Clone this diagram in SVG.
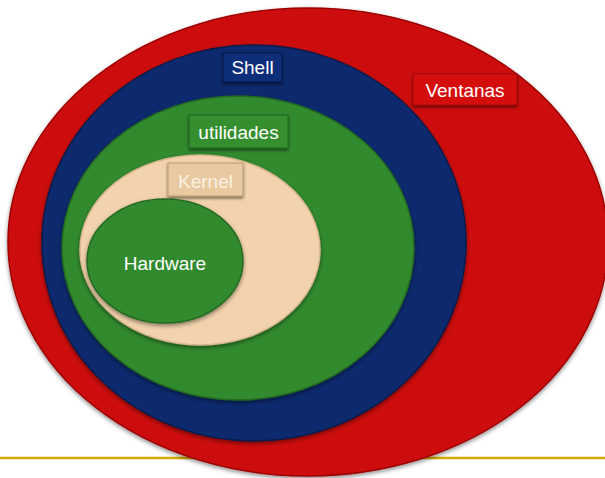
<svg xmlns="http://www.w3.org/2000/svg" width="605" height="478" viewBox="0 0 605 478">
<defs>
<filter id="sh" x="-10%" y="-10%" width="120%" height="125%">
<feDropShadow dx="0" dy="2" stdDeviation="2" flood-color="#000" flood-opacity="0.45"/>
</filter>
<filter id="bsh" x="-10%" y="-20%" width="120%" height="150%">
<feDropShadow dx="0" dy="2" stdDeviation="1.5" flood-color="#000" flood-opacity="0.5"/>
</filter>
</defs>
<style>
.lbl{font-family:"Liberation Sans",Arial,sans-serif;font-size:19px;fill:#ffffff;text-anchor:middle}
.red{fill:#cd0a0a;stroke:#9e0606;stroke-width:1.5}
.blue{fill:#0b2b6e;stroke:#071c4c;stroke-width:1.5}
.green{fill:#338a2d;stroke:#246a20;stroke-width:1.5}
.beige{fill:#f2d3ad;stroke:#d8b890;stroke-width:1.5}
</style>
<rect width="605" height="478" fill="#ffffff"/>
<line x1="0" y1="458" x2="605" y2="458" stroke="#d4a900" stroke-width="2.5"/>
<g id="ventanas">
<ellipse class="red" cx="308" cy="242" rx="300" ry="234" filter="url(#sh)"/>
<rect x="413" y="74" width="104" height="31" fill="#d40c0c" stroke="#a00606" filter="url(#bsh)"/>
<text class="lbl" x="465" y="97">Ventanas</text>
</g>
<g id="shell">
<ellipse class="blue" cx="254" cy="243" rx="212" ry="198" filter="url(#sh)"/>
<rect x="223" y="53" width="59" height="29" fill="#0d2f78" stroke="#061a48" filter="url(#bsh)"/>
<text class="lbl" x="252.500" y="74">Shell</text>
</g>
<g id="utilidades">
<ellipse class="green" cx="238" cy="248" rx="176" ry="152" filter="url(#sh)"/>
<rect x="189" y="115" width="99" height="33" fill="#358f2f" stroke="#22641e" filter="url(#bsh)"/>
<text class="lbl" x="238.500" y="139">utilidades</text>
</g>
<g id="kernel">
<ellipse class="beige" cx="200" cy="250" rx="120" ry="95" filter="url(#sh)"/>
<rect x="168" y="163" width="75" height="33" fill="#e8c9a0" stroke="#b89a74" filter="url(#bsh)"/>
<text class="lbl" x="205.500" y="188" fill="#fbefe0" style="fill:#fbf0e2">Kernel</text>
</g>
<g id="hardware">
<ellipse class="green" cx="165" cy="261" rx="78" ry="62" filter="url(#sh)"/>
<text class="lbl" x="165" y="270">Hardware</text>
</g>
</svg>
